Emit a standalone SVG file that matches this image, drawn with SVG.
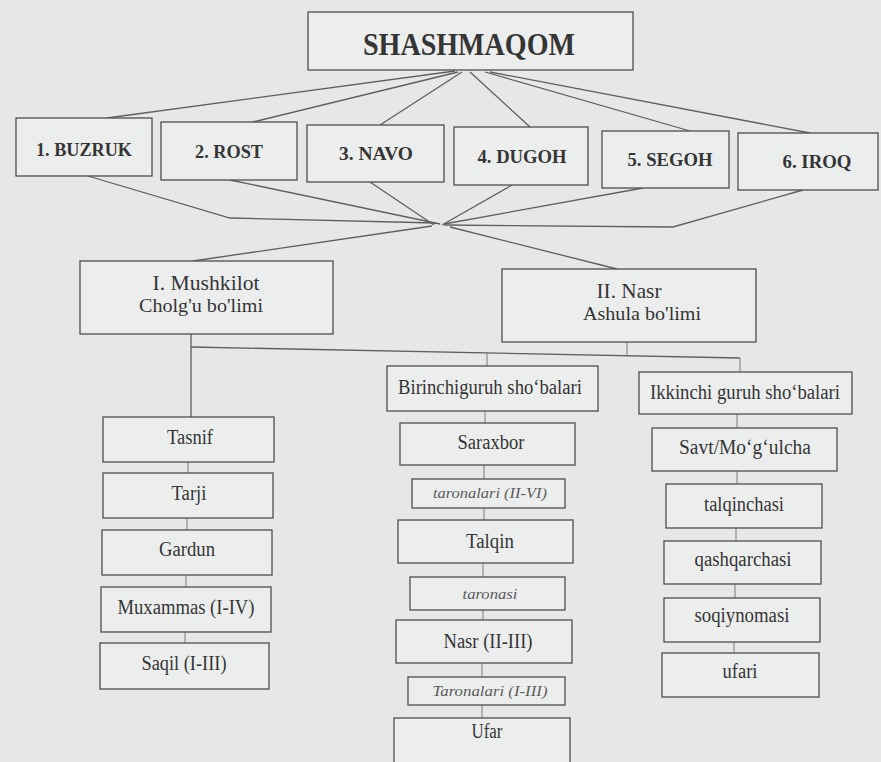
<svg xmlns="http://www.w3.org/2000/svg" width="881" height="762" viewBox="0 0 881 762">
  <style>
    .box { fill: #eceeee; stroke: #4d4d4d; stroke-width: 1.3; }
    .ln { stroke: #5e5e5e; stroke-width: 1.3; fill: none; }
    .tick { stroke: #7a7a7a; stroke-width: 1; fill: none; }
    .t { font-family: 'Liberation Serif', 'DejaVu Serif', 'Times New Roman', serif; fill: #353535; text-anchor: middle; }
    .b { font-weight: bold; font-size: 19px; }
    .it { font-style: italic; fill: #5a5a5a; font-size: 14px; }
    .m { font-size: 20px; }
  </style>

  <rect x="0" y="0" width="881" height="762" fill="#e6e8e8"/>

  <!-- connectors -->
  <g id="connectors">
    <!-- from the root to the six maqoms -->
    <line class="ln" x1="455" y1="71" x2="107" y2="118"/>
    <line class="ln" x1="458" y1="72" x2="253" y2="122"/>
    <line class="ln" x1="462" y1="72" x2="380" y2="125"/>
    <line class="ln" x1="470" y1="72" x2="530" y2="127"/>
    <line class="ln" x1="485" y1="72" x2="690" y2="131"/>
    <line class="ln" x1="490" y1="72" x2="810" y2="133"/>
    <!-- from the maqoms down to the junction -->
    <polyline class="ln" points="88,176 230,218 436,223"/>
    <line class="ln" x1="230" y1="180" x2="440" y2="224"/>
    <line class="ln" x1="370" y1="182" x2="434" y2="225"/>
    <line class="ln" x1="512" y1="185" x2="442" y2="225"/>
    <line class="ln" x1="643" y1="188" x2="444" y2="224"/>
    <polyline class="ln" points="803,190 673,227 444,225"/>
    <!-- junction to the two sections -->
    <line class="ln" x1="432" y1="226" x2="193" y2="261"/>
    <line class="ln" x1="450" y1="227" x2="617" y2="269"/>
    <!-- section bus -->
    <line class="ln" x1="191" y1="334" x2="191" y2="417"/>
    <line class="ln" x1="191" y1="347" x2="740" y2="358"/>
    <line class="tick" x1="627" y1="342" x2="627" y2="355"/>
    <line class="tick" x1="487" y1="352" x2="487" y2="366"/>
    <line class="tick" x1="740" y1="358" x2="740" y2="372"/>
    <!-- left column -->
    <line class="tick" x1="188" y1="462" x2="188" y2="473"/>
    <line class="tick" x1="187" y1="518" x2="187" y2="530"/>
    <line class="tick" x1="186" y1="575" x2="186" y2="587"/>
    <line class="tick" x1="185" y1="632" x2="185" y2="643"/>
    <!-- middle column -->
    <line class="tick" x1="485" y1="411" x2="485" y2="423"/>
    <line class="tick" x1="484" y1="465" x2="484" y2="479"/>
    <line class="tick" x1="484" y1="508" x2="484" y2="520"/>
    <line class="tick" x1="483" y1="563" x2="483" y2="577"/>
    <line class="tick" x1="483" y1="610" x2="483" y2="620"/>
    <line class="tick" x1="482" y1="663" x2="482" y2="677"/>
    <line class="tick" x1="482" y1="705" x2="482" y2="718"/>
    <!-- right column -->
    <line class="tick" x1="737" y1="414" x2="737" y2="428"/>
    <line class="tick" x1="737" y1="471" x2="737" y2="484"/>
    <line class="tick" x1="736" y1="528" x2="736" y2="541"/>
    <line class="tick" x1="735" y1="584" x2="735" y2="598"/>
    <line class="tick" x1="734" y1="642" x2="734" y2="653"/>
  </g>

  <!-- root -->
  <g id="shashmaqom">
    <rect class="box" x="308" y="12" width="325" height="58"/>
    <text class="t" x="469" y="55" font-size="32" font-weight="bold" textLength="212" lengthAdjust="spacingAndGlyphs">SHASHMAQOM</text>
  </g>

  <!-- six maqoms -->
  <g id="buzruk">
    <rect class="box" x="16" y="118" width="136" height="58"/>
    <text class="t b" x="84" y="156" textLength="96" lengthAdjust="spacingAndGlyphs">1. BUZRUK</text>
  </g>
  <g id="rost">
    <rect class="box" x="161" y="122" width="136" height="58"/>
    <text class="t b" x="229" y="158" textLength="68" lengthAdjust="spacingAndGlyphs">2. ROST</text>
  </g>
  <g id="navo">
    <rect class="box" x="307" y="125" width="137" height="57"/>
    <text class="t b" x="376" y="160" textLength="74" lengthAdjust="spacingAndGlyphs">3. NAVO</text>
  </g>
  <g id="dugoh">
    <rect class="box" x="454" y="127" width="134" height="58"/>
    <text class="t b" x="522" y="163" textLength="89" lengthAdjust="spacingAndGlyphs">4. DUGOH</text>
  </g>
  <g id="segoh">
    <rect class="box" x="602" y="131" width="127" height="57"/>
    <text class="t b" x="670" y="166" textLength="85" lengthAdjust="spacingAndGlyphs">5. SEGOH</text>
  </g>
  <g id="iroq">
    <rect class="box" x="738" y="133" width="140" height="57"/>
    <text class="t b" x="817" y="168" textLength="69" lengthAdjust="spacingAndGlyphs">6. IROQ</text>
  </g>

  <!-- sections -->
  <g id="mushkilot">
    <rect class="box" x="80" y="261" width="253" height="73"/>
    <text class="t" x="206" y="290" font-size="22" textLength="107" lengthAdjust="spacingAndGlyphs">I. Mushkilot</text>
    <text class="t" x="201" y="312" font-size="19" textLength="124" lengthAdjust="spacingAndGlyphs">Cholg'u  bo'limi</text>
  </g>
  <g id="nasr">
    <rect class="box" x="502" y="269" width="254" height="73"/>
    <text class="t" x="629" y="298" font-size="22" textLength="65" lengthAdjust="spacingAndGlyphs">II. Nasr</text>
    <text class="t" x="642" y="320" font-size="19" textLength="118" lengthAdjust="spacingAndGlyphs">Ashula  bo'limi</text>
  </g>

  <g id="birinchi">
    <rect class="box" x="387" y="366" width="211" height="45"/>
    <text class="t m" x="490" y="394" textLength="184" lengthAdjust="spacingAndGlyphs">Birinchiguruh sho‘balari</text>
  </g>
  <g id="ikkinchi">
    <rect class="box" x="639" y="372" width="213" height="42"/>
    <text class="t m" x="745" y="399" textLength="190" lengthAdjust="spacingAndGlyphs">Ikkinchi guruh sho‘balari</text>
  </g>

  <!-- instrumental column -->
  <g id="tasnif">
    <rect class="box" x="103" y="417" width="171" height="45"/>
    <text class="t m" x="190" y="444" textLength="46" lengthAdjust="spacingAndGlyphs">Tasnif</text>
  </g>
  <g id="tarji">
    <rect class="box" x="103" y="473" width="170" height="45"/>
    <text class="t m" x="189" y="500" textLength="35" lengthAdjust="spacingAndGlyphs">Tarji</text>
  </g>
  <g id="gardun">
    <rect class="box" x="102" y="530" width="170" height="45"/>
    <text class="t m" x="187" y="556" textLength="56" lengthAdjust="spacingAndGlyphs">Gardun</text>
  </g>
  <g id="muxammas">
    <rect class="box" x="101" y="587" width="170" height="45"/>
    <text class="t m" x="186" y="614" textLength="137" lengthAdjust="spacingAndGlyphs">Muxammas (I-IV)</text>
  </g>
  <g id="saqil">
    <rect class="box" x="100" y="643" width="169" height="46"/>
    <text class="t m" x="184" y="670" textLength="85" lengthAdjust="spacingAndGlyphs">Saqil (I-III)</text>
  </g>

  <!-- first vocal group -->
  <g id="saraxbor">
    <rect class="box" x="400" y="423" width="175" height="42"/>
    <text class="t m" x="491" y="449" textLength="67" lengthAdjust="spacingAndGlyphs">Saraxbor</text>
  </g>
  <g id="taronalari-2-6">
    <rect class="box" x="412" y="479" width="153" height="29"/>
    <text class="t it" x="490" y="498" textLength="114" lengthAdjust="spacingAndGlyphs">taronalari  (II-VI)</text>
  </g>
  <g id="talqin">
    <rect class="box" x="398" y="520" width="175" height="43"/>
    <text class="t m" x="490" y="548" textLength="48" lengthAdjust="spacingAndGlyphs">Talqin</text>
  </g>
  <g id="taronasi">
    <rect class="box" x="410" y="577" width="155" height="33"/>
    <text class="t it" x="490" y="599" textLength="55" lengthAdjust="spacingAndGlyphs">taronasi</text>
  </g>
  <g id="nasr-2-3">
    <rect class="box" x="396" y="620" width="176" height="43"/>
    <text class="t m" x="488" y="648" textLength="89" lengthAdjust="spacingAndGlyphs">Nasr (II-III)</text>
  </g>
  <g id="taronalari-1-3">
    <rect class="box" x="408" y="677" width="157" height="28"/>
    <text class="t it" x="490" y="696" textLength="115" lengthAdjust="spacingAndGlyphs">Taronalari  (I-III)</text>
  </g>
  <g id="ufar">
    <rect class="box" x="394" y="718" width="176" height="50"/>
    <text class="t m" x="487" y="738" textLength="31" lengthAdjust="spacingAndGlyphs">Ufar</text>
  </g>

  <!-- second vocal group -->
  <g id="savt">
    <rect class="box" x="652" y="428" width="185" height="43"/>
    <text class="t m" x="745" y="454" textLength="132" lengthAdjust="spacingAndGlyphs">Savt/Mo‘g‘ulcha</text>
  </g>
  <g id="talqinchasi">
    <rect class="box" x="666" y="484" width="156" height="44"/>
    <text class="t m" x="744" y="511" textLength="80" lengthAdjust="spacingAndGlyphs">talqinchasi</text>
  </g>
  <g id="qashqarchasi">
    <rect class="box" x="664" y="541" width="157" height="43"/>
    <text class="t m" x="743" y="566" textLength="97" lengthAdjust="spacingAndGlyphs">qashqarchasi</text>
  </g>
  <g id="soqiynomasi">
    <rect class="box" x="664" y="598" width="156" height="44"/>
    <text class="t m" x="742" y="622" textLength="95" lengthAdjust="spacingAndGlyphs">soqiynomasi</text>
  </g>
  <g id="ufari">
    <rect class="box" x="662" y="653" width="157" height="44"/>
    <text class="t m" x="740" y="678" textLength="35" lengthAdjust="spacingAndGlyphs">ufari</text>
  </g>
</svg>
